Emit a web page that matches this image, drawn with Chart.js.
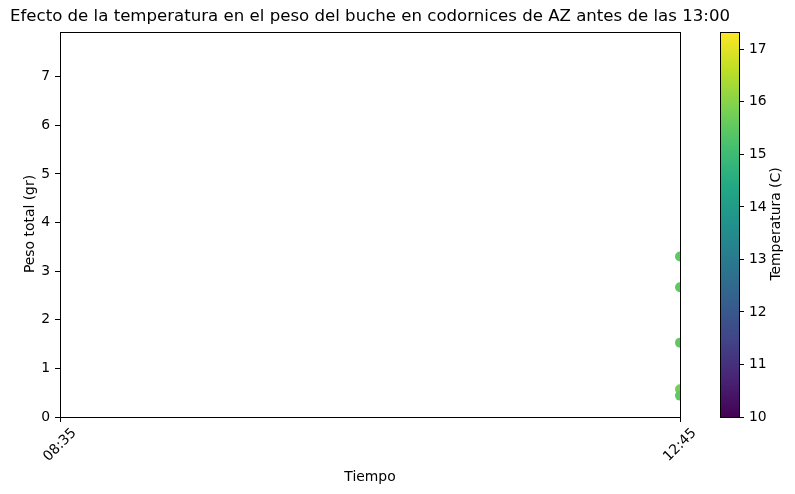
<!DOCTYPE html>
<html>
<head>
<meta charset="utf-8">
<script src="https://cdn.jsdelivr.net/npm/chart.js@4/dist/chart.umd.min.js"></script>
<style>
html,body{margin:0;padding:0;background:#fff;}
#wrap{position:relative;width:795px;height:494px;}
canvas{position:absolute;left:0;top:0;}
</style>
</head>
<body>
<div id="wrap">
<canvas id="main" width="795" height="494"></canvas>
<canvas id="cbar" width="795" height="494"></canvas>
</div>
<script>
// ---- data ----
const titleText = 'Efecto de la temperatura en el peso del buche en codornices de AZ antes de las 13:00';
const xTickLabels = ['08:35', '12:45'];
const yTicks = [0, 1, 2, 3, 4, 5, 6, 7];
const yMax = 7.92;
const pointTimes = ['12:45', '12:45', '12:45', '12:45', '12:45'];
const pesoTotal = [3.30, 2.67, 1.53, 0.57, 0.44];
const temperatura = [15.5, 15.5, 15.5, 15.8, 15.5];
const cbarMin = 10;
const cbarMax = 17.33;
const cbarTicks = [10, 11, 12, 13, 14, 15, 16, 17];

const FONT = "'DejaVu Sans', sans-serif";
const viridis = ['#440154','#482475','#414487','#355f8d','#2a788e','#21918c','#22a884','#44bf70','#7ad151','#bddf26','#fde725'];

function toMin(s){ const p = s.split(':'); return (+p[0])*60 + (+p[1]); }
function fmt(m){ const h = Math.floor(m/60), mm = Math.round(m%60); return String(h).padStart(2,'0')+':'+String(mm).padStart(2,'0'); }
function hexToRgb(h){ return [parseInt(h.slice(1,3),16),parseInt(h.slice(3,5),16),parseInt(h.slice(5,7),16)]; }
function viridisColor(t){
  t = Math.max(0, Math.min(1, t));
  const f = t*(viridis.length-1); const i = Math.min(Math.floor(f), viridis.length-2); const r = f-i;
  const a = hexToRgb(viridis[i]), b = hexToRgb(viridis[i+1]);
  return 'rgb(' + a.map((v,k)=>Math.round(v+(b[k]-v)*r)).join(',') + ')';
}

const points = pesoTotal.map((v,i)=>({x: toMin(pointTimes[i]), y: v}));
const colors = temperatura.map(t => viridisColor((t-cbarMin)/(cbarMax-cbarMin)));

const framePlugin = {
  id: 'frame',
  afterDatasetsDraw(chart){
    const {ctx, chartArea:a} = chart;
    ctx.save();
    ctx.strokeStyle = '#000'; ctx.lineWidth = 1;
    ctx.strokeRect(Math.round(a.left)+0.5, Math.round(a.top)+0.5, Math.round(a.right-a.left), Math.round(a.bottom-a.top));
    ctx.restore();
  },
  afterDraw(chart){
    const ctx = chart.ctx;
    const xs = chart.scales.x;
    ctx.save();
    ctx.fillStyle = '#000';
    ctx.textAlign = 'center'; ctx.textBaseline = 'middle';
    // x tick labels, rotated 45° and centred under each tick
    ctx.font = '13.9px ' + FONT;
    const top = chart.chartArea.bottom + 9;
    xs.ticks.forEach(tk => {
      const label = fmt(tk.value);
      const w = ctx.measureText(label).width;
      const half = (w + 14) * Math.SQRT1_2 / 2;
      ctx.save();
      ctx.translate(xs.getPixelForValue(tk.value), top + half);
      ctx.rotate(-Math.PI/4);
      ctx.fillText(label, 0, 0);
      ctx.restore();
    });
    ctx.font = '16.6px ' + FONT;
    ctx.fillText(titleText, 370, 17);
    ctx.font = '13.9px ' + FONT;
    ctx.fillText('Tiempo', 370, 477);
    ctx.translate(30, 224); ctx.rotate(-Math.PI/2);
    ctx.fillText('Peso total (gr)', 0, 0);
    ctx.restore();
  }
};

new Chart(document.getElementById('main'), {
  type: 'scatter',
  data: { datasets: [{ data: points, pointRadius: 5, pointBackgroundColor: colors, pointBorderWidth: 0, clip: 0 }] },
  options: {
    responsive: false, animation: false,
    layout: { padding: { left: 0, right: 115, top: 32, bottom: 0 } },
    plugins: { legend: { display: false }, tooltip: { enabled: false } },
    scales: {
      x: {
        type: 'linear', min: toMin(xTickLabels[0]), max: toMin(xTickLabels[xTickLabels.length-1]),
        afterBuildTicks: s => { s.ticks = xTickLabels.map(t => ({ value: toMin(t) })); },
        afterFit: s => { s.height = 77; },
        ticks: { display: false },
        grid: { display: true, drawOnChartArea: false, drawTicks: true, tickLength: 5, color: '#000' },
        border: { color: '#000', width: 1 }
      },
      y: {
        min: 0, max: yMax,
        afterBuildTicks: s => { s.ticks = yTicks.map(v => ({ value: v })); },
        afterFit: s => { s.width = 60; },
        ticks: { color: '#000', font: { family: FONT, size: 13.9 }, padding: 5 },
        grid: { display: true, drawOnChartArea: false, tickLength: 5, color: '#000' },
        border: { color: '#000', width: 1 }
      }
    }
  },
  plugins: [framePlugin]
});

const cbarPlugin = {
  id: 'cbarFill',
  beforeDatasetsDraw(chart){
    const {ctx, chartArea:a, scales} = chart;
    const y = scales.y;
    const g = ctx.createLinearGradient(0, y.getPixelForValue(cbarMin), 0, y.getPixelForValue(cbarMax));
    viridis.forEach((c,i)=>g.addColorStop(i/(viridis.length-1), c));
    ctx.save();
    ctx.fillStyle = g;
    ctx.fillRect(a.left, a.top, a.right-a.left, a.bottom-a.top);
    ctx.strokeStyle = '#000'; ctx.lineWidth = 1;
    ctx.strokeRect(Math.round(a.left)+0.5, Math.round(a.top)+0.5, Math.round(a.right-a.left), Math.round(a.bottom-a.top));
    ctx.restore();
  },
  afterDraw(chart){
    const ctx = chart.ctx;
    ctx.save();
    ctx.fillStyle = '#000';
    ctx.textAlign = 'center'; ctx.textBaseline = 'middle';
    ctx.font = '13.9px ' + FONT;
    ctx.translate(776, 224); ctx.rotate(-Math.PI/2);
    ctx.fillText('Temperatura (C)', 0, 0);
    ctx.restore();
  }
};

new Chart(document.getElementById('cbar'), {
  type: 'scatter',
  data: { datasets: [{ data: [] }] },
  options: {
    responsive: false, animation: false,
    layout: { padding: { left: 720, right: 0, top: 32, bottom: 77 } },
    plugins: { legend: { display: false }, tooltip: { enabled: false } },
    scales: {
      x: { display: false, min: 0, max: 1 },
      y: {
        position: 'right', min: cbarMin, max: cbarMax,
        afterBuildTicks: s => { s.ticks = cbarTicks.map(v => ({ value: v })); },
        afterFit: s => { s.width = 56; },
        ticks: { color: '#000', font: { family: FONT, size: 13.9 }, padding: 5 },
        grid: { display: true, drawOnChartArea: false, tickLength: 5, color: '#000' },
        border: { display: false }
      }
    }
  },
  plugins: [cbarPlugin]
});
</script>
</body>
</html>
